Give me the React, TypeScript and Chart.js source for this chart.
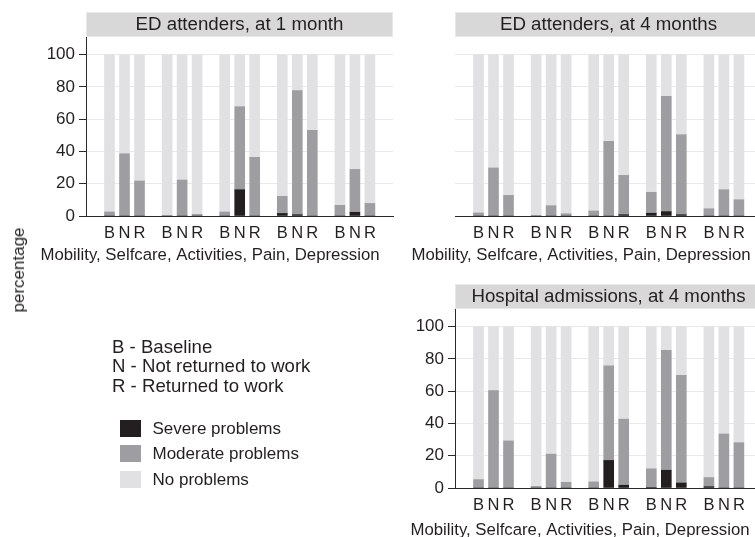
import React, { useEffect, useRef } from 'react';
import { Chart, registerables } from 'chart.js';

Chart.register(...registerables);

// ---------- data ----------
const GROUPS = ['Mobility', 'Selfcare', 'Activities', 'Pain', 'Depression'];
const SUBGROUPS = ['B', 'N', 'R'];
const Y_TICKS = [0, 20, 40, 60, 80, 100];
const AXIS_TITLE = 'Mobility, Selfcare, Activities, Pain, Depression';
const Y_TITLE = 'percentage';

const ed1Title = 'ED attenders, at 1 month';
const ed1Severe = [0, 0, 0, 0, 0, 0, 0, 16.3, 0, 1.6, 0.8, 0, 0, 2.3, 0];
const ed1Moderate = [2.5, 38.6, 21.7, 0, 22.3, 1.0, 2.5, 51.5, 36.4, 10.6, 76.9, 53.1, 6.6, 26.6, 7.8];

const ed4Title = 'ED attenders, at 4 months';
const ed4Severe = [0, 0, 0, 0, 0, 0, 0, 0, 0.8, 1.7, 2.7, 0.8, 0, 0, 0];
const ed4Moderate = [1.9, 29.8, 12.8, 0, 6.4, 1.4, 3.1, 46.3, 24.4, 13.0, 71.5, 49.6, 4.5, 16.3, 10.1];

const hospTitle = 'Hospital admissions, at 4 months';
const hospSevere = [0, 0, 0, 0, 0, 0, 0, 17.1, 1.7, 0.3, 11.0, 3.1, 0.8, 0, 0];
const hospModerate = [5.2, 60.4, 29.2, 1.0, 21.0, 3.5, 3.8, 58.7, 41.0, 11.6, 74.4, 66.7, 5.7, 33.5, 28.1];

const SUBGROUP_LEGEND = ['B - Baseline', 'N - Not returned to work', 'R - Returned to work'];
const LEVEL_LABELS = ['Severe problems', 'Moderate problems', 'No problems'];

// ---------- styles ----------
const FONT = "'Liberation Sans', Arial, Helvetica, sans-serif";
const LEVEL_COLORS = ['#231f20', '#9e9ea2', '#e1e1e3'];
const STRIP_BG = '#d8d8d8';
const STRIP_BORDER = '#e8e8e8';
const GRID = '#e9e9e9';
const AXIS = '#2a2a2a';
const TEXT = '#231f20';

const CW = 775;
const CH = 537;
const GROUP_STEP = 3.84;
const X_MIN = -1.567;
const X_MAX = 18.9;
const Y_MAX = 111;
const X_AXIS_H = 30;

type Panel = {
  title: string;
  severe: number[];
  moderate: number[];
  left: number;
  right: number;
  top: number;
  bottom: number;
  yWidth: number;
  showY: boolean;
  axisTitleX: number;
  axisTitleDy: number;
};

const PANELS: Panel[] = [
  { title: ed1Title, severe: ed1Severe, moderate: ed1Moderate, left: 0, right: 393, top: 37, bottom: 216, yWidth: 86, showY: true, axisTitleX: 210, axisTitleDy: 39.5 },
  { title: ed4Title, severe: ed4Severe, moderate: ed4Moderate, left: 455, right: 762, top: 37, bottom: 216, yWidth: 0, showY: false, axisTitleX: 581, axisTitleDy: 39.5 },
  { title: hospTitle, severe: hospSevere, moderate: hospModerate, left: 0, right: 762, top: 309, bottom: 488, yWidth: 455, showY: true, axisTitleX: 580, axisTitleDy: 42 },
];

const xPositions = GROUPS.flatMap((_, g) => SUBGROUPS.map((_, k) => g * GROUP_STEP + k));

function makeConfig(p: Panel): any {
  const none = p.severe.map((s, i) => 100 - s - p.moderate[i]);
  const series = [p.severe, p.moderate, none];
  const deco = {
    id: 'deco',
    beforeDraw(chart: any) {
      const { ctx, chartArea: a } = chart;
      ctx.save();
      ctx.fillStyle = STRIP_BG;
      ctx.fillRect(a.left, a.top - 25, a.right - a.left, 25);
      ctx.strokeStyle = STRIP_BORDER;
      ctx.lineWidth = 1;
      ctx.strokeRect(a.left + 0.5, a.top - 24.5, a.right - a.left - 1, 24);
      ctx.fillStyle = TEXT;
      ctx.font = `18.7px ${FONT}`;
      ctx.textAlign = 'center';
      ctx.textBaseline = 'middle';
      ctx.fillText(p.title, (a.left + a.right) / 2, a.top - 12.5);
      ctx.font = `16.8px ${FONT}`;
      ctx.fillText(AXIS_TITLE, p.axisTitleX, a.bottom + p.axisTitleDy);
      ctx.restore();
    },
  };
  return {
    type: 'bar',
    data: {
      datasets: series.map((vals, d) => ({
        label: LEVEL_LABELS[d],
        data: xPositions.map((x, i) => ({ x, y: vals[i] })),
        backgroundColor: LEVEL_COLORS[d],
        borderWidth: 0,
        barThickness: 10,
      })),
    },
    options: {
      animation: false,
      responsive: false,
      events: [],
      layout: {
        padding: {
          left: p.left,
          right: CW - p.right,
          top: p.top,
          bottom: CH - p.bottom - X_AXIS_H,
        },
      },
      plugins: { legend: { display: false }, tooltip: { enabled: false }, title: { display: false } },
      scales: {
        x: {
          type: 'linear',
          stacked: true,
          offset: false,
          min: X_MIN,
          max: X_MAX,
          grid: { display: false, drawTicks: false, offset: false },
          border: { display: true, color: AXIS, width: 1, z: 1 },
          ticks: {
            autoSkip: false,
            maxRotation: 0,
            minRotation: 0,
            padding: 7.5,
            color: TEXT,
            font: { family: FONT, size: 16.5, lineHeight: 1.2 },
            callback: (_v: any, i: number) => SUBGROUPS[i % 3],
          },
          afterBuildTicks: (s: any) => {
            s.ticks = xPositions.map((v) => ({ value: v }));
          },
          afterFit: (s: any) => {
            s.height = X_AXIS_H;
          },
        },
        y: {
          stacked: true,
          min: 0,
          max: Y_MAX,
          grid: { color: GRID, tickColor: AXIS, tickLength: 7, drawTicks: p.showY, lineWidth: 1 },
          border: { display: p.showY, color: AXIS, width: 1, z: 1 },
          ticks: {
            display: p.showY,
            padding: 4,
            color: TEXT,
            font: { family: FONT, size: 17 },
          },
          afterBuildTicks: (s: any) => {
            s.ticks = Y_TICKS.map((v) => ({ value: v }));
          },
          afterFit: (s: any) => {
            s.width = p.yWidth;
          },
        },
      },
    },
    plugins: [deco],
  };
}

function PanelCanvas({ panel }: { panel: Panel }) {
  const ref = useRef<HTMLCanvasElement | null>(null);
  useEffect(() => {
    if (!ref.current) return;
    const chart = new Chart(ref.current, makeConfig(panel));
    return () => chart.destroy();
  }, [panel]);
  return (
    <canvas
      ref={ref}
      width={CW}
      height={CH}
      style={{ position: 'absolute', left: 0, top: 0, width: CW, height: CH }}
    />
  );
}

export default function App() {
  useEffect(() => {
    document.body.style.margin = '0';
    document.body.style.overflow = 'hidden';
  }, []);
  return (
    <div
      style={{
        position: 'relative',
        width: 755,
        height: 537,
        overflow: 'hidden',
        background: '#ffffff',
        fontFamily: FONT,
        color: TEXT,
      }}
    >
      {PANELS.map((p, i) => (
        <PanelCanvas key={i} panel={p} />
      ))}
      <div
        style={{
          position: 'absolute',
          left: 19,
          top: 270,
          fontSize: 17,
          lineHeight: '20px',
          whiteSpace: 'nowrap',
          transform: 'translate(-50%, -50%) rotate(-90deg)',
        }}
      >
        {Y_TITLE}
      </div>
      <div
        style={{
          position: 'absolute',
          left: 112,
          top: 337.2,
          fontSize: 18.6,
          lineHeight: '19.3px',
          whiteSpace: 'nowrap',
        }}
      >
        {SUBGROUP_LEGEND.map((t) => (
          <div key={t}>{t}</div>
        ))}
      </div>
      {LEVEL_LABELS.map((t, i) => (
        <React.Fragment key={t}>
          <div
            style={{
              position: 'absolute',
              left: 120,
              top: 420 + i * 25.3,
              width: 21,
              height: 17,
              background: LEVEL_COLORS[i],
            }}
          />
          <div
            style={{
              position: 'absolute',
              left: 152.5,
              top: 420 + i * 25.3,
              height: 17,
              fontSize: 17,
              lineHeight: '17px',
              whiteSpace: 'nowrap',
            }}
          >
            {t}
          </div>
        </React.Fragment>
      ))}
    </div>
  );
}
